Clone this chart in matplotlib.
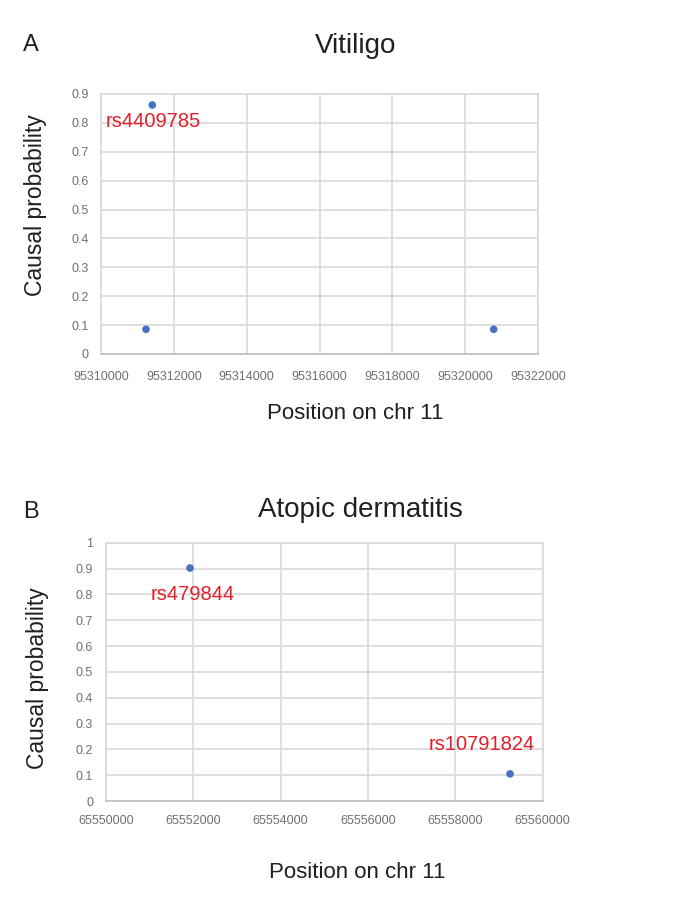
import matplotlib
matplotlib.use("Agg")
import matplotlib.pyplot as plt

plt.rcParams['font.family'] = ['Liberation Sans', 'DejaVu Sans']

# Panel A: Vitiligo
vit_pos = [95311236, 95311409, 95320783]
vit_prob = [0.0855, 0.862, 0.0855]
vit_xticks = [95310000, 95312000, 95314000, 95316000, 95318000, 95320000, 95322000]
vit_yticks = [0, 0.1, 0.2, 0.3, 0.4, 0.5, 0.6, 0.7, 0.8, 0.9]
vit_ylabels = ['0', '0.1', '0.2', '0.3', '0.4', '0.5', '0.6', '0.7', '0.8', '0.9']
vit_label = ('rs4409785', 95310130, 0.804)

# Panel B: Atopic dermatitis
ad_pos = [65551929, 65559252]
ad_prob = [0.902, 0.105]
ad_xticks = [65550000, 65552000, 65554000, 65556000, 65558000, 65560000]
ad_yticks = [0, 0.1, 0.2, 0.3, 0.4, 0.5, 0.6, 0.7, 0.8, 0.9, 1.0]
ad_ylabels = ['0', '0.1', '0.2', '0.3', '0.4', '0.5', '0.6', '0.7', '0.8', '0.9', '1']
ad_labels = [('rs479844', 65551030, 0.80), ('rs10791824', 65557400, 0.217)]

W, H = 675, 899
fig = plt.figure(figsize=(W / 100, H / 100), dpi=100)

grid_c = '#d9d9d9'
tick_c = '#707070'
pt_c = '#4472C4'
lab_c = '#e0202a'


def style(ax, xticks, yticks, ylabels, xpad, ypad):
    ax.set_xticks(xticks)
    ax.set_xticklabels([str(v) for v in xticks])
    ax.set_yticks(yticks)
    ax.set_yticklabels(ylabels)
    ax.set_xlim(xticks[0], xticks[-1])
    ax.set_ylim(yticks[0], yticks[-1])
    ax.grid(True, color=grid_c, lw=1.2)
    ax.set_axisbelow(True)
    for s in ax.spines.values():
        s.set_color(grid_c)
        s.set_linewidth(1.2)
    ax.spines['bottom'].set_color('#bfbfbf')
    ax.tick_params(length=0, colors=tick_c, labelsize=9)
    ax.tick_params(axis='x', pad=xpad)
    ax.tick_params(axis='y', pad=ypad)


def fx(px):
    return px / W


def fy(py):
    return 1 - py / H


# Panel A axes
axA = fig.add_axes([fx(101), fy(354), fx(538 - 101), (354 - 94) / H])
style(axA, vit_xticks, vit_yticks, vit_ylabels, 12, 9)
axA.scatter(vit_pos, vit_prob, s=30, color=pt_c, zorder=3, edgecolors='none')
axA.text(vit_label[1], vit_label[2], vit_label[0], color=lab_c, fontsize=14.5,
         ha='left', va='center', zorder=4)

# Panel B axes
axB = fig.add_axes([fx(105.7), fy(801), fx(542.7 - 105.7), (801 - 542.7) / H])
style(axB, ad_xticks, ad_yticks, ad_ylabels, 10, 9)
axB.scatter(ad_pos, ad_prob, s=30, color=pt_c, zorder=3, edgecolors='none')
for txt, x, y in ad_labels:
    axB.text(x, y, txt, color=lab_c, fontsize=14.5, ha='left', va='center', zorder=4)

# Figure-level text
txt_c = '#231f20'
fig.text(fx(31), fy(45), 'A', fontsize=17, color=txt_c, ha='center', va='center')
fig.text(fx(356), fy(46), 'Vitiligo', fontsize=20, color=txt_c, ha='center', va='center')
fig.text(fx(31), fy(512), 'B', fontsize=17, color=txt_c, ha='center', va='center')
fig.text(fx(360), fy(510), 'Atopic dermatitis', fontsize=20, color=txt_c, ha='center', va='center')

fig.text(fx(355), fy(413), 'Position on chr 11', fontsize=16, color=txt_c, ha='center', va='center')
fig.text(fx(357), fy(873), 'Position on chr 11', fontsize=16, color=txt_c, ha='center', va='center')
fig.text(fx(36), fy(205), 'Causal probability', fontsize=16.5, color=txt_c, ha='center',
         va='center', rotation=90)
fig.text(fx(38), fy(678), 'Causal probability', fontsize=16.5, color=txt_c, ha='center',
         va='center', rotation=90)

fig.savefig('out.png', dpi=100)
